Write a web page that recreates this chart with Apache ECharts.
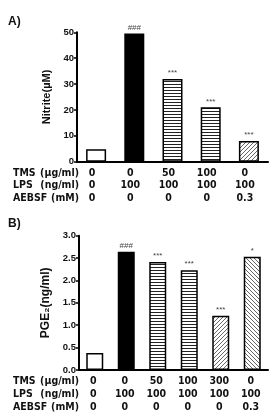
<!DOCTYPE html>
<html>
<head>
<meta charset="utf-8">
<script src="https://cdn.jsdelivr.net/npm/echarts@6/dist/echarts.min.js"></script>
<style>
  html, body { margin: 0; padding: 0; background: #fff; }
  #main { width: 278px; height: 418px; }
</style>
</head>
<body>
<div id="main"></div>
<script>
// 数据 A: Nitrite
var tmsA = ['0', '0', '50', '100', '0'];
var lpsA = ['0', '100', '100', '100', '100'];
var aebsfA = ['0', '0', '0', '0', '0.3'];
var nitrite = [4.8, 49.5, 32, 21, 8];
var sigA = ['', '###', '***', '***', '***'];

// 数据 B: PGE2
var tmsB = ['0', '0', '50', '100', '300', '0'];
var lpsB = ['0', '100', '100', '100', '100', '100'];
var aebsfB = ['0', '0', '0', '0', '0', '0.3'];
var pge2 = [0.38, 2.64, 2.41, 2.23, 1.21, 2.53];
var sigB = ['', '###', '***', '***', '***', '*'];

var rowNames = ['TMS', 'LPS', 'AEBSF'];
var rowUnits = ['(\u00b5g/ml)', '(ng/ml)', '(mM)'];

var bold = 'Liberation Sans, Arial, sans-serif';
var narrow = "'Liberation Sans Narrow', 'DejaVu Sans Condensed', 'Liberation Sans', sans-serif";

// 填充图案
function pattern(kind) {
  var c = document.createElement('canvas');
  var ctx = c.getContext('2d');
  if (kind === 'h') {
    c.width = 4; c.height = 3;
    ctx.fillStyle = '#fff'; ctx.fillRect(0, 0, 4, 3);
    ctx.fillStyle = '#222'; ctx.fillRect(0, 0, 4, 1);
  } else {
    c.width = 4; c.height = 4;
    ctx.fillStyle = '#fff'; ctx.fillRect(0, 0, 4, 4);
    ctx.strokeStyle = '#555'; ctx.lineWidth = 0.9;
    ctx.beginPath();
    if (kind === 'r') {
      ctx.moveTo(-1, 5); ctx.lineTo(5, -1);
      ctx.moveTo(-1, 1); ctx.lineTo(1, -1);
      ctx.moveTo(3, 5); ctx.lineTo(5, 3);
    } else {
      ctx.moveTo(-1, -1); ctx.lineTo(5, 5);
      ctx.moveTo(3, -1); ctx.lineTo(5, 1);
      ctx.moveTo(-1, 3); ctx.lineTo(1, 5);
    }
    ctx.stroke();
  }
  return { image: c, repeat: 'repeat' };
}
var fills = { w: '#fff', k: '#000', h: pattern('h'), r: pattern('r'), l: pattern('l') };
var fillA = ['w', 'k', 'h', 'h', 'r'];
var fillB = ['w', 'k', 'h', 'h', 'r', 'l'];

function barData(vals, keys) {
  return vals.map(function (v, i) {
    return { value: v, itemStyle: { color: fills[keys[i]] } };
  });
}

function tableLabel(rows) {
  return function (value, index) {
    return rows.map(function (r) { return r[index]; }).join('\n');
  };
}

function rowTexts(ys) {
  var out = [];
  ys.forEach(function (y, i) {
    out.push({ type: 'text', left: 13, top: y - 6, style: { text: rowNames[i], font: 'bold 10.5px ' + narrow, fill: '#111' } });
    out.push({ type: 'text', right: 278 - 79, top: y - 6, style: { text: rowUnits[i], font: 'bold 10.5px ' + narrow, fill: '#111', textAlign: 'right' } });
  });
  return out;
}

var axisLine = { lineStyle: { color: '#000', width: 2 } };
var tickLbl = { color: '#111', fontWeight: 'bold', fontSize: 9.5, fontFamily: bold, margin: 3 };
var sigLabel = { show: true, position: 'top', distance: 2, fontSize: 8, color: '#444', fontFamily: bold };

var myChart = echarts.init(document.getElementById('main'));
var option = {
  animation: false,
  grid: [
    { left: 77, right: 10, top: 32.3, bottom: 418 - 161.7 },
    { left: 79, right: 10, top: 235.7, bottom: 418 - 370 }
  ],
  xAxis: [
    {
      type: 'category', gridIndex: 0, data: nitrite.map(function (v, i) { return 'a' + i; }),
      axisLine: axisLine, axisTick: { alignWithLabel: true, length: 3, lineStyle: { color: '#000', width: 1.5 } },
      axisLabel: { formatter: tableLabel([tmsA, lpsA, aebsfA]), lineHeight: 12.5, margin: 5, padding: [0, 8, 0, 0],
        color: '#111', fontWeight: 'bold', fontSize: 10.5, fontFamily: narrow, interval: 0 }
    },
    {
      type: 'category', gridIndex: 1, data: pge2.map(function (v, i) { return 'b' + i; }),
      axisLine: axisLine, axisTick: { alignWithLabel: true, length: 3, lineStyle: { color: '#000', width: 1.5 } },
      axisLabel: { formatter: tableLabel([tmsB, lpsB, aebsfB]), lineHeight: 13, margin: 5, padding: [0, 3, 0, 0],
        color: '#111', fontWeight: 'bold', fontSize: 10.5, fontFamily: narrow, interval: 0 }
    }
  ],
  yAxis: [
    {
      type: 'value', gridIndex: 0, min: 0, max: 50, interval: 10,
      name: 'Nitrite(\u00b5M)', nameLocation: 'middle', nameGap: 20,
      nameTextStyle: { color: '#111', fontWeight: 'bold', fontSize: 11, fontFamily: bold },
      axisLine: Object.assign({ show: true }, axisLine),
      axisTick: { show: true, length: 3, lineStyle: { color: '#000', width: 1.5 } },
      axisLabel: tickLbl, splitLine: { show: false }
    },
    {
      type: 'value', gridIndex: 1, min: 0, max: 3, interval: 0.5,
      name: 'PGE\u2082(ng/ml)', nameLocation: 'middle', nameGap: 22,
      nameTextStyle: { color: '#111', fontWeight: 'bold', fontSize: 12, fontFamily: bold },
      axisLine: Object.assign({ show: true }, axisLine),
      axisTick: { show: true, length: 3, lineStyle: { color: '#000', width: 1.5 } },
      axisLabel: Object.assign({}, tickLbl, { formatter: function (v) { return v.toFixed(1); } }),
      splitLine: { show: false }
    }
  ],
  series: [
    {
      type: 'bar', xAxisIndex: 0, yAxisIndex: 0, barWidth: 20,
      data: barData(nitrite, fillA),
      itemStyle: { borderColor: '#000', borderWidth: 1.5 },
      label: Object.assign({}, sigLabel, { formatter: function (p) { return sigA[p.dataIndex]; } })
    },
    {
      type: 'bar', xAxisIndex: 1, yAxisIndex: 1, barWidth: 17,
      data: barData(pge2, fillB),
      itemStyle: { borderColor: '#000', borderWidth: 1.5 },
      label: Object.assign({}, sigLabel, { formatter: function (p) { return sigB[p.dataIndex]; } })
    }
  ],
  graphic: [
    { type: 'text', left: 8, top: 16, style: { text: 'A)', font: 'bold 12px ' + bold, fill: '#111' } },
    { type: 'text', left: 8, top: 218, style: { text: 'B)', font: 'bold 12px ' + bold, fill: '#111' } }
  ].concat(rowTexts([173.3, 185.7, 198.3])).concat(rowTexts([381.7, 395, 408]))
};

if (option && typeof option === 'object') {
  myChart.setOption(option, true);
}
</script>
</body>
</html>
